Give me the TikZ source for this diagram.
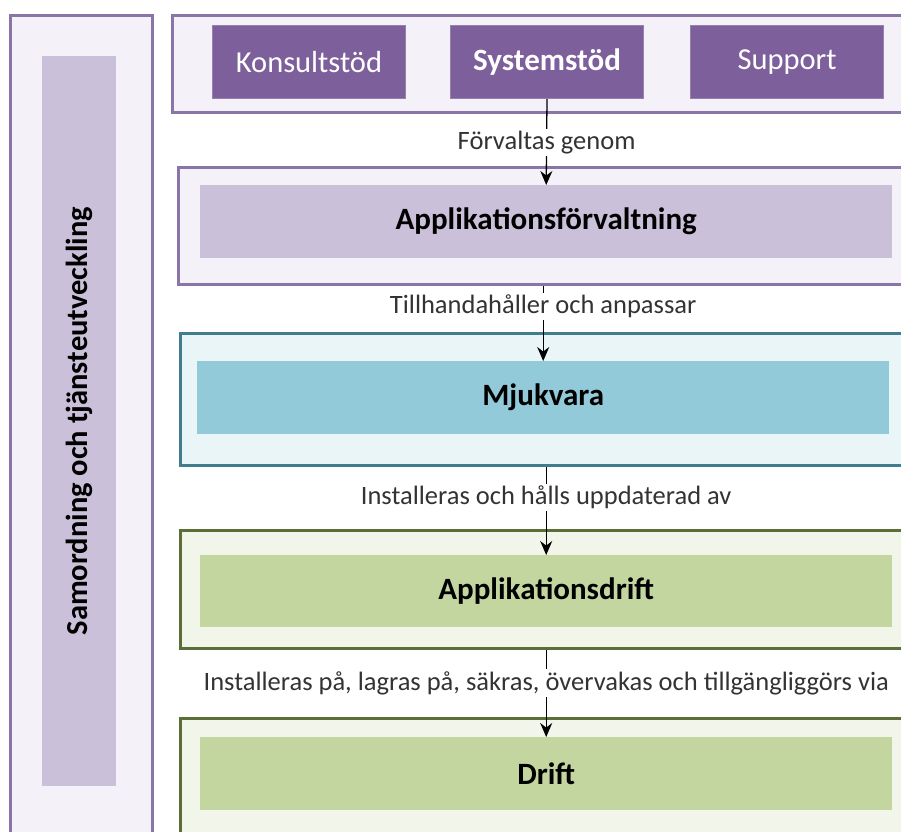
\documentclass[tikz,border=0pt]{standalone}
\usepackage{fontspec}
\setmainfont{Carlito}
\usetikzlibrary{arrows.meta}
\definecolor{lila}{HTML}{7D5F9B}
\definecolor{lilaljus}{HTML}{CBC0D9}
\definecolor{lilabg}{HTML}{F4F2F8}
\definecolor{lilakant}{HTML}{8A74A8}
\definecolor{bla}{HTML}{92CAD9}
\definecolor{blabg}{HTML}{EAF5F8}
\definecolor{blakant}{HTML}{3F7D8F}
\definecolor{gron}{HTML}{C4D6A0}
\definecolor{gronbg}{HTML}{F2F5EA}
\definecolor{gronkant}{HTML}{5B6E38}
\tikzset{
  ram/.style={draw, line width=2.8pt, anchor=north west, inner sep=0pt},
  ruta/.style={anchor=north west, inner sep=0pt, text=black,
    font=\fontsize{31}{34}\selectfont\bfseries},
  knapp/.style={ruta, fill=lila, draw=lila!80!white, line width=1pt,
    minimum width=193pt, minimum height=73pt, text=white,
    font=\fontsize{30.5}{33}\selectfont},
  etikett/.style={fill=white, inner sep=2pt, text=black!80,
    font=\fontsize{26.5}{29}\selectfont},
  pil/.style={-{Stealth[length=14pt,width=12pt]}, line width=1.3pt}
}
\begin{document}
\begin{tikzpicture}[x=1pt,y=-1pt]
\useasboundingbox (0,0) rectangle (901,831);
\clip (0,0) rectangle (901,831);
% vänster kolumn
\node[ram, draw=lilakant, fill=lilabg, minimum width=142pt, minimum height=840pt] (vram) at (9,14) {};
\node[ruta, fill=lilaljus, minimum width=74pt, minimum height=730pt] (samord) at (42,56) {};
\node[rotate=90, font=\fontsize{30.5}{33}\selectfont\bfseries] (samtext) at (samord.center) {Samordning och tjänsteutveckling};
% stödfunktioner
\node[ram, draw=lilakant, fill=lilabg, minimum width=740pt, minimum height=97pt] (stodram) at (171,14) {};
\node[knapp] (konsult) at (212,25) {Konsultstöd};
\node[knapp, font=\fontsize{31}{34}\selectfont\bfseries] (system) at (450,25) {Systemstöd};
\node[knapp] (support) at (690,25) {Support};
% lager
\node[ram, draw=lilakant, fill=lilabg, minimum width=740pt, minimum height=117pt] (afram) at (177,166) {};
\node[ruta, fill=lilaljus, minimum width=692pt, minimum height=73pt] (af) at (200,185) {Applikationsförvaltning};
\node[ram, draw=blakant, fill=blabg, minimum width=740pt, minimum height=132pt] (mjram) at (179,332) {};
\node[ruta, fill=bla, minimum width=692pt, minimum height=73pt] (mjuk) at (197,361) {Mjukvara};
\node[ram, draw=gronkant, fill=gronbg, minimum width=740pt, minimum height=118pt] (adram) at (179,529) {};
\node[ruta, fill=gron, minimum width=692pt, minimum height=72pt] (appdrift) at (200,555) {Applikationsdrift};
\node[ram, draw=gronkant, fill=gronbg, minimum width=740pt, minimum height=130pt] (drram) at (179,717) {};
\node[ruta, fill=gron, minimum width=692pt, minimum height=73pt] (drift) at (200,737) {Drift};
% pilar
\draw[pil] (system.south) -- node[etikett, pos=.51] {Förvaltas genom} (af.north);
\draw[pil] (mjuk.north |- afram.south) -- node[etikett, pos=.27] {Tillhandahåller och anpassar} (mjuk.north);
\draw[pil] (appdrift.north |- mjram.south) -- node[etikett, pos=.35] {Installeras och hålls uppdaterad av} (appdrift.north);
\draw[pil] (drift.north |- adram.south) -- node[etikett, pos=.38] {Installeras på, lagras på, säkras, övervakas och tillgängliggörs via} (drift.north);
\end{tikzpicture}
\end{document}
